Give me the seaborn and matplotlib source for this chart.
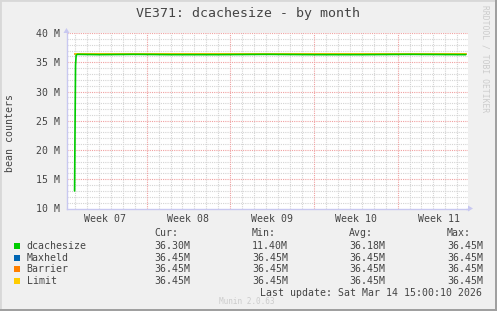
import matplotlib
matplotlib.use("Agg")
import matplotlib.pyplot as plt
from matplotlib.patches import Rectangle, Polygon
import seaborn as sns
import pandas as pd

# ---------------- data ----------------
title = "VE371: dcachesize - by month"
y_label = "bean counters"
week_labels = ["Week 07", "Week 08", "Week 09", "Week 10", "Week 11"]
week_label_days = [3.5, 10.5, 17.5, 24.5, 31.5]   # days since Mon 9 Feb 00:00
week_start_days = [7, 14, 21, 28]
y_ticks = [10, 15, 20, 25, 30, 35, 40]

dc_days = [0.97, 1.00, 1.05, 1.10, 1.20, 3.0, 6.0, 9.0, 13.0, 17.0, 21.0, 25.0, 29.0, 33.7]
dc_vals = [13.0, 22.0, 34.5, 36.2, 36.35, 36.3, 36.35, 36.3, 36.3, 36.35, 36.3, 36.3, 36.35, 36.3]
const_days = [0.97, 33.7]
maxheld_vals = [36.45, 36.45]
barrier_vals = [36.45, 36.45]
limit_vals = [36.45, 36.45]

series_names = ["dcachesize", "Maxheld", "Barrier", "Limit"]
series_colors = ["#00CC00", "#0066B3", "#FF8000", "#FFCC00"]
cur_vals = ["36.30M", "36.45M", "36.45M", "36.45M"]
min_vals = ["11.40M", "36.45M", "36.45M", "36.45M"]
avg_vals = ["36.18M", "36.45M", "36.45M", "36.45M"]
max_vals = ["36.45M", "36.45M", "36.45M", "36.45M"]
last_update = "Last update: Sat Mar 14 15:00:10 2026"
footer = "Munin 2.0.63"
side_text = "RRDTOOL / TOBI OETIKER"

# ---------------- styling ----------------
sns.set_style("white")
plt.rcParams["font.family"] = ["DejaVu Sans Mono"]
TXT = "#444444"
W, H = 497, 311

def fx(px):
    return px / W

def fy(py):
    return 1 - py / H

fig = plt.figure(figsize=(W / 100, H / 100), dpi=100, facecolor="#F0F0F0")

# border
fig.patches.append(Rectangle((0, 0), 1, 1, transform=fig.transFigure, fill=False,
                             edgecolor="#D8D8D8", linewidth=2))
fig.patches.append(Rectangle((fx(495), 0), fx(2), 1, transform=fig.transFigure,
                             facecolor="#A0A0A0", edgecolor="none"))
fig.patches.append(Rectangle((0, 0), 1, 2 / H, transform=fig.transFigure,
                             facecolor="#A0A0A0", edgecolor="none"))

L, R, T, B = 66.5, 468, 33, 208.5
ax = fig.add_axes([fx(L), fy(B), fx(R - L), (B - T) / H])
ax.set_facecolor("white")

x0 = 63.0
ppd = 11.95
ax.set_xlim((L - x0) / ppd, (R - x0) / ppd)
ax.set_ylim(10, 40)

# grid
for d in range(1, 35):
    if d in week_start_days:
        continue
    ax.axvline(d, color="#D4D4D4", lw=0.8, ls=(0, (1, 1)), zorder=0)
for v in range(11, 40):
    if v % 5 == 0:
        continue
    ax.axhline(v, color="#D4D4D4", lw=0.8, ls=(0, (1, 1)), zorder=0)
for d in week_start_days:
    ax.axvline(d, color="#F0A0A0", lw=0.8, ls=(0, (1, 1)), zorder=0.5)
for v in y_ticks[1:]:
    ax.axhline(v, color="#F0A0A0", lw=0.8, ls=(0, (1, 1)), zorder=0.5)

# data
sns.lineplot(x=const_days, y=maxheld_vals, color=series_colors[1], lw=1.2, ax=ax, zorder=3)
sns.lineplot(x=const_days, y=barrier_vals, color=series_colors[2], lw=1.2, ax=ax, zorder=3)
sns.lineplot(x=const_days, y=limit_vals, color=series_colors[3], lw=1.2, ax=ax, zorder=3)
sns.lineplot(x=dc_days, y=dc_vals, color=series_colors[0], lw=1.2, ax=ax, zorder=4)

# axes
for s in ["top", "right"]:
    ax.spines[s].set_visible(False)
for s in ["left", "bottom"]:
    ax.spines[s].set_color("#C8C8F0")
    ax.spines[s].set_linewidth(1)
ax.set_yticks(y_ticks)
ax.set_yticklabels([f"{v} M" for v in y_ticks])
ax.set_xticks(week_label_days)
ax.set_xticklabels(week_labels)
ax.tick_params(axis="both", length=0, labelsize=7.1, labelcolor=TXT, pad=5)
ax.tick_params(axis="x", pad=4)

# axis arrows
fig.patches.append(Polygon([(fx(468), fy(205.5)), (fx(468), fy(211.5)), (fx(473), fy(208.5))],
                           closed=True, transform=fig.transFigure, facecolor="#C8C8F0",
                           edgecolor="none"))
fig.lines.append(plt.Line2D([fx(466), fx(469)], [fy(208.5), fy(208.5)], transform=fig.transFigure,
                            color="#C8C8F0", lw=1))
fig.patches.append(Polygon([(fx(63.5), fy(33)), (fx(69.5), fy(33)), (fx(66.5), fy(28))],
                           closed=True, transform=fig.transFigure, facecolor="#C8C8F0",
                           edgecolor="none"))

# texts
fig.text(fx(248), fy(13), title, ha="center", va="center", fontsize=9.5, color=TXT)
fig.text(fx(10.5), fy(133), y_label, ha="center", va="center", rotation=90,
         fontsize=7.1, color=TXT)
fig.text(fx(485), fy(5), side_text, ha="center", va="top", rotation=270,
         fontsize=5.8, color="#CCCCCC")
fig.text(fx(247), fy(301.5), footer, ha="center", va="center", fontsize=5.6, color="#CCCCCC")

cols_x = [154, 252, 349, 447]
headers = ["Cur:", "Min:", "Avg:", "Max:"]
for cx, h in zip(cols_x, headers):
    fig.text(fx(cx), fy(232.5), h, ha="left", va="center", fontsize=7.1, color=TXT)
row_y = [246, 257.7, 269.4, 281.1]
for i, name in enumerate(series_names):
    yy = row_y[i]
    fig.patches.append(Rectangle((fx(14), fy(yy + 3)), fx(6), 6 / H, transform=fig.transFigure,
                                 facecolor=series_colors[i], edgecolor="none"))
    fig.text(fx(26.5), fy(yy), name, ha="left", va="center", fontsize=7.1, color=TXT)
    for cx, vals in zip(cols_x, [cur_vals, min_vals, avg_vals, max_vals]):
        fig.text(fx(cx), fy(yy), vals[i], ha="left", va="center", fontsize=7.1, color=TXT)
fig.text(fx(482), fy(293.5), last_update, ha="right", va="center", fontsize=7.1, color=TXT)

fig.savefig("out.png", dpi=100, facecolor=fig.get_facecolor())
